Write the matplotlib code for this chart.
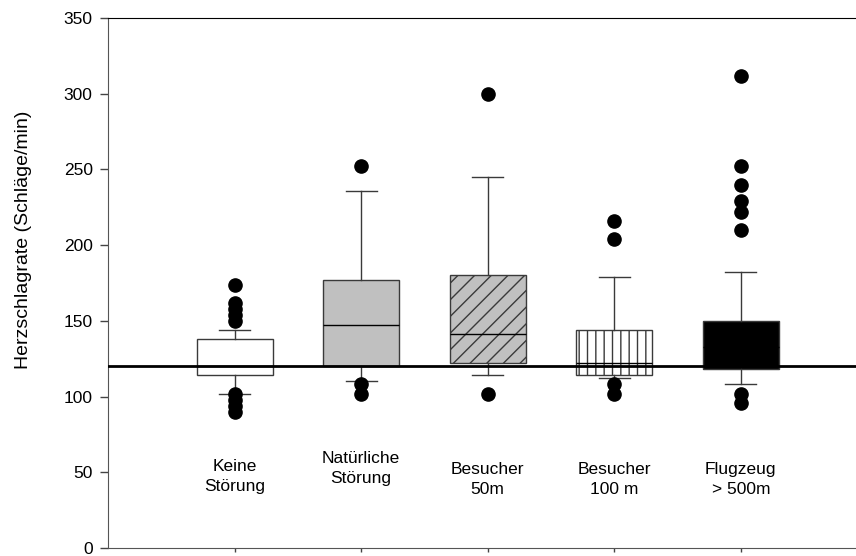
import matplotlib
matplotlib.use("Agg")
import matplotlib.pyplot as plt

plt.rcParams['font.family'] = ['Liberation Sans', 'DejaVu Sans']

# Kategorien (Störungsart)
labels = ["Keine\nStörung", "Natürliche\nStörung", "Besucher\n50m", "Besucher\n100 m", "Flugzeug\n> 500m"]
label_y = [47.2, 52.5, 45.2, 45.2, 45.2]

# Boxplot-Kennwerte in Schläge/min
q1 = [114, 120, 122, 114, 118]
med = [120, 147, 141, 122, 133]
q3 = [138, 177, 180, 144, 150]
whislo = [102, 110, 114, 112, 108]
whishi = [144, 236, 245, 179, 182]
fliers = [
    [174, 162, 158, 154, 150, 102, 98, 94, 90],
    [252, 108, 102],
    [300, 102],
    [216, 204, 108, 102],
    [312, 252, 240, 229, 222, 210, 102, 96],
]
baseline = 120

faces = ["white", "#c0c0c0", "#c0c0c0", "white", "black"]
hatches = ["", "", "//", "||", ""]

stats = []
for i in range(len(labels)):
    stats.append(dict(q1=q1[i], med=med[i], q3=q3[i], whislo=whislo[i],
                      whishi=whishi[i], fliers=fliers[i]))

fig = plt.figure(figsize=(8.56, 5.56), dpi=100)
ax = fig.add_axes([108 / 856, 8 / 556, 1 - 108 / 856, 530 / 556])

edge = "#3a3a3a"
bp = ax.bxp(stats, positions=range(1, 6), widths=0.6, patch_artist=True,
            showfliers=True,
            boxprops=dict(edgecolor=edge, linewidth=1.0),
            medianprops=dict(color="black", linewidth=1.0),
            whiskerprops=dict(color=edge, linewidth=1.0),
            capprops=dict(color=edge, linewidth=1.0),
            capwidths=0.245,
            flierprops=dict(marker="o", markerfacecolor="black",
                            markeredgecolor="black", markersize=9.5))
for box, fc, h in zip(bp['boxes'], faces, hatches):
    box.set_facecolor(fc)
    box.set_hatch(h)

ax.axhline(baseline, color="black", linewidth=2, zorder=5)

for i, (lab, yy) in enumerate(zip(labels, label_y)):
    ax.text(i + 1, yy, lab, ha="center", va="center", fontsize=12.5,
            multialignment="center", linespacing=1.4)

ax.set_xlim(0, 5.91)
ax.set_ylim(0, 350)
ax.set_yticks(range(0, 351, 50))
ax.set_xticks(range(1, 6))
ax.set_xticklabels([])
ax.tick_params(axis="y", direction="out", length=6, width=1, colors="#444444",
               labelcolor="black", labelsize=12.5, pad=5)
ax.tick_params(axis="x", direction="out", length=3, width=1, colors="#444444")
ax.spines['right'].set_visible(False)
for s in ['left', 'bottom']:
    ax.spines[s].set_color("#555555")
ax.spines['top'].set_color("black")
ax.set_ylabel("Herzschlagrate (Schläge/min)", fontsize=14)
ax.yaxis.set_label_coords(-0.102, 0.581)

fig.savefig("out.png", dpi=100)
